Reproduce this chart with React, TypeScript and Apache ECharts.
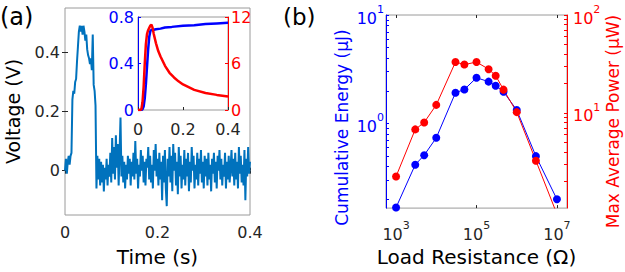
import React, { useEffect, useRef } from "react";
import * as echarts from "echarts";

// ---------- Panel (a): voltage trace (sampled every SAMPLE_DT seconds) ----------
const SAMPLE_DT = 0.002;
const voltage = [
  0.0, 0.04, -0.01, 0.03, 0.05, 0.02, 0.05, 0.06, 0.24, 0.27,
  0.26, 0.3, 0.31, 0.37, 0.42, 0.47, 0.49, 0.47, 0.49, 0.46,
  0.49, 0.47, 0.44, 0.46, 0.41, 0.39, 0.38, 0.36, 0.38, 0.34,
  0.46, 0.29, 0.27, 0.22, -0.06, 0.05, -0.03, 0.04, -0.05, 0.03,
  -0.04, 0.02, -0.07, 0.01, -0.03, 0.04, -0.05, 0.02, -0.02, 0.06,
  -0.04, 0.11, -0.01, 0.08, -0.03, 0.12, 0.01, 0.09, -0.05, 0.06,
  0.18, -0.02, 0.05, -0.04, 0.03, -0.06, 0.02, -0.03, 0.05, -0.01,
  0.04, -0.05, 0.03, -0.02, 0.06, -0.03, 0.1, -0.01, 0.04, -0.06,
  0.02, -0.02, 0.07, 0.0, 0.05, -0.04, 0.03, -0.05, 0.04, 0.01,
  0.08, -0.03, 0.05, -0.04, 0.02, -0.06, 0.07, 0.0, 0.09, -0.02,
  0.04, -0.05, 0.06, -0.03, 0.03, -0.1, 0.05, -0.04, 0.07, -0.06,
  -0.12, 0.04, -0.02, 0.08, -0.04, 0.05, -0.07, 0.09, 0.0, 0.06,
  -0.05, 0.03, -0.08, 0.08, -0.02, 0.05, -0.06, 0.02, -0.03, 0.07,
  -0.05, 0.04, -0.02, 0.06, -0.07, 0.03, -0.04, 0.08, 0.0, 0.05,
  -0.06, 0.02, -0.03, 0.06, -0.05, 0.04, -0.01, 0.07, -0.04, 0.03,
  -0.06, 0.05, -0.02, 0.04, -0.05, 0.06, -0.03, 0.02, -0.07, 0.04,
  -0.01, 0.06, -0.04, 0.03, -0.06, 0.05, 0.0, 0.07, -0.03, 0.04,
  -0.05, 0.02, -0.02, 0.06, -0.06, 0.03, -0.03, 0.05, -0.04, 0.01,
  0.07, -0.02, 0.04, -0.05, 0.06, -0.03, 0.03, -0.06, 0.08, -0.01,
  0.05, -0.04, 0.02, -0.05, 0.07, -0.1, 0.04, -0.02, 0.08, -0.01,
  0.03,
];

// Inset: cumulative energy (left, blue) and power (right, red)
const energyTime = [0, 0.01, 0.02, 0.025, 0.03, 0.035, 0.04, 0.045, 0.05, 0.055, 0.06, 0.07, 0.08, 0.1, 0.12, 0.15, 0.2, 0.25, 0.3, 0.35, 0.4];
const energyValues = [0, 0, 0.005, 0.03, 0.1, 0.22, 0.37, 0.52, 0.63, 0.68, 0.69, 0.69, 0.695, 0.7, 0.71, 0.715, 0.725, 0.73, 0.74, 0.745, 0.75];
const powerTime = [0, 0.01, 0.015, 0.02, 0.025, 0.03, 0.035, 0.04, 0.045, 0.05, 0.055, 0.06, 0.065, 0.07, 0.08, 0.09, 0.1, 0.12, 0.14, 0.16, 0.18, 0.2, 0.25, 0.3, 0.35, 0.4];
const powerValues = [0, 0, 0.1, 1.0, 3.0, 6.0, 8.5, 9.8, 10.3, 10.6, 10.9, 11.0, 10.6, 9.8, 8.6, 7.6, 6.9, 5.7, 4.8, 4.2, 3.7, 3.3, 2.6, 2.2, 1.95, 1.75];

const mainXTicks = [0, 0.2, 0.4];
const mainYTicks = [0, 0.2, 0.4];

// ---------- Panel (b): load sweep ----------
const resistance = [1e3, 3e3, 5e3, 1e4, 3e4, 5e4, 1e5, 2e5, 3e5, 4.7e5, 1e6, 3e6, 1e7];
const cumulativeEnergy = [0.168, 0.417, 0.51, 0.738, 1.92, 2.06, 2.64, 2.43, 2.23, 1.96, 1.33, 0.5, 0.2];
const maxAvgPower = [2.25, 6.8, 8.0, 12.1, 33.1, 31.2, 33.1, 28.0, 24.0, 17.3, 10.2, 3.26, 0.93];

const logXLabels = [1e3, 1e5, 1e7];
const logYLeftLabels = [1, 10];
const logYRightLabels = [10, 100];
const logYLeftTicks = [0.2, 0.3, 0.4, 0.5, 0.6, 0.7, 0.8, 0.9, 1, 2, 3, 4, 5, 6, 7, 8, 9, 10];
const logYRightTicks = [2, 3, 4, 5, 6, 7, 8, 9, 10, 20, 30, 40, 50, 60, 70, 80, 90, 100];

const FONT = "DejaVu Sans";
const DARK = "#262626";
const BOX = "#9a9a9a";
const BLUE = "#0000ff";
const RED = "#ff0000";

const pow10Label = (color: string) => ({
  formatter: (v: number) => `{b|10}{s|${Math.round(Math.log10(v))}}`,
  rich: {
    b: { fontSize: 16, fontFamily: FONT, color, verticalAlign: "bottom", lineHeight: 22 },
    s: { fontSize: 11, fontFamily: FONT, color, verticalAlign: "top", lineHeight: 22 },
  },
});

export default function App() {
  const ref = useRef<HTMLDivElement>(null);
  useEffect(() => {
    const chart = echarts.init(ref.current!, null, { renderer: "svg" });
    const tickStyle = (color: string) => ({ show: true, inside: true, length: 3, lineStyle: { color, width: 1 } });
    const option: any = {
      animation: false,
      backgroundColor: "#fff",
      textStyle: { fontFamily: FONT },
      grid: [
        { left: 65, top: 8, width: 185, height: 209, show: true, borderColor: BOX, borderWidth: 1, z: 0 },
        { left: 138, top: 17, width: 90, height: 93, show: true, borderColor: BOX, borderWidth: 1, backgroundColor: "#fff", z: 5 },
        { left: 386, top: 15, width: 181, height: 203, show: true, borderColor: BOX, borderWidth: 1, z: 0 },
      ],
      xAxis: [
        {
          gridIndex: 0, type: "value", min: 0, max: 0.4, interval: 0.2,
          axisLine: { show: false }, splitLine: { show: false },
          axisTick: tickStyle(DARK),
          axisLabel: { color: DARK, fontSize: 16, margin: 9, fontFamily: FONT, customValues: mainXTicks },
          name: "Time (s)", nameLocation: "middle", nameGap: 32,
          nameTextStyle: { color: "#000", fontSize: 20, fontFamily: FONT },
        },
        {
          gridIndex: 0, type: "value", min: 0, max: 0.4, interval: 0.2, position: "top",
          axisLine: { show: false }, splitLine: { show: false }, axisLabel: { show: false },
          axisTick: tickStyle(DARK),
        },
        {
          gridIndex: 1, type: "value", min: 0, max: 0.4, interval: 0.2, z: 6,
          axisLine: { show: false }, splitLine: { show: false },
          axisTick: tickStyle(DARK),
          axisLabel: { color: DARK, fontSize: 16, margin: 11, fontFamily: FONT },
        },
        {
          gridIndex: 2, type: "log", logBase: 10, min: 562.3, max: 17782794,
          axisLine: { show: false }, splitLine: { show: false },
          axisTick: { ...tickStyle(DARK), customValues: logXLabels },
          axisLabel: { ...pow10Label(DARK), margin: 12, customValues: logXLabels },
          minorTick: { show: false },
          name: "Load Resistance (Ω)", nameLocation: "middle", nameGap: 31,
          nameTextStyle: { color: "#000", fontSize: 20, fontFamily: FONT },
        },
        {
          gridIndex: 2, type: "log", logBase: 10, min: 562.3, max: 17782794, position: "top",
          axisLine: { show: false }, splitLine: { show: false }, axisLabel: { show: false },
          axisTick: { ...tickStyle(DARK), customValues: logXLabels },
        },
      ],
      yAxis: [
        {
          gridIndex: 0, type: "value", min: -0.15, max: 0.55,
          axisLine: { show: false }, splitLine: { show: false },
          axisTick: { ...tickStyle(DARK), customValues: mainYTicks },
          axisLabel: { color: DARK, fontSize: 16, margin: 5, fontFamily: FONT, customValues: mainYTicks },
          name: "Voltage (V)", nameLocation: "middle", nameGap: 43, nameRotate: 90,
          nameTextStyle: { color: "#000", fontSize: 19, fontFamily: FONT },
        },
        {
          gridIndex: 0, type: "value", min: -0.15, max: 0.55, position: "right",
          axisLine: { show: false }, splitLine: { show: false }, axisLabel: { show: false },
          axisTick: { ...tickStyle(DARK), customValues: mainYTicks },
        },
        {
          gridIndex: 1, type: "value", min: 0, max: 0.8, interval: 0.4, z: 6,
          axisLine: { show: true, lineStyle: { color: BLUE, width: 1 } }, splitLine: { show: false },
          axisTick: tickStyle(BLUE),
          axisLabel: { color: BLUE, fontSize: 16, margin: 4, fontFamily: FONT },
        },
        {
          gridIndex: 1, type: "value", min: 0, max: 12, interval: 6, position: "right", z: 6,
          axisLine: { show: true, lineStyle: { color: RED, width: 1 } }, splitLine: { show: false },
          axisTick: tickStyle(RED),
          axisLabel: { color: RED, fontSize: 16, margin: 3, fontFamily: FONT },
        },
        {
          gridIndex: 2, type: "log", logBase: 10, min: 0.166, max: 10, z: 3,
          axisLine: { show: true, lineStyle: { color: BLUE, width: 1 } }, splitLine: { show: false },
          axisTick: { ...tickStyle(BLUE), customValues: logYLeftTicks },
          minorTick: { show: false },
          axisLabel: { ...pow10Label(BLUE), margin: 2, customValues: logYLeftLabels },
          name: "Cumulative Energy (μJ)", nameLocation: "middle", nameGap: 36, nameRotate: 90,
          nameTextStyle: { color: BLUE, fontSize: 17, fontFamily: FONT, padding: [0, 32, 0, 0] },
        },
        {
          gridIndex: 2, type: "log", logBase: 10, min: 1.07, max: 100, position: "right", z: 3,
          axisLine: { show: true, lineStyle: { color: RED, width: 1 } }, splitLine: { show: false },
          axisTick: { ...tickStyle(RED), customValues: logYRightTicks },
          minorTick: { show: false },
          axisLabel: { ...pow10Label(RED), margin: 6, customValues: logYRightLabels },
          name: "Max Average Power (μW)", nameLocation: "middle", nameGap: 36, nameRotate: 90,
          nameTextStyle: { color: RED, fontSize: 17, fontFamily: FONT, padding: [0, 20, 0, 0] },
        },
      ],
      series: [
        {
          type: "line", xAxisIndex: 0, yAxisIndex: 0, z: 1, showSymbol: false,
          data: voltage.map((v, i) => [i * SAMPLE_DT, v]),
          lineStyle: { color: "#0072BD", width: 2 }, clip: true,
        },
        {
          type: "line", xAxisIndex: 2, yAxisIndex: 2, z: 7, showSymbol: false,
          data: energyTime.map((t, i) => [t, energyValues[i]]),
          lineStyle: { color: BLUE, width: 2.5 },
        },
        {
          type: "line", xAxisIndex: 2, yAxisIndex: 3, z: 8, showSymbol: false,
          data: powerTime.map((t, i) => [t, powerValues[i]]),
          lineStyle: { color: RED, width: 2.5 },
        },
        {
          type: "line", xAxisIndex: 3, yAxisIndex: 4, symbol: "circle", symbolSize: 8, clip: true,
          data: resistance.map((r, i) => [r, cumulativeEnergy[i]]),
          lineStyle: { color: BLUE, width: 1 }, itemStyle: { color: BLUE },
        },
        {
          type: "line", xAxisIndex: 3, yAxisIndex: 5, symbol: "circle", symbolSize: 8, clip: true,
          data: resistance.map((r, i) => [r, maxAvgPower[i]]),
          lineStyle: { color: RED, width: 1 }, itemStyle: { color: RED },
        },
      ],
      graphic: [
        { type: "text", left: 0, top: 5, style: { text: "(a)", fontSize: 24, fontFamily: FONT, fill: "#000" } },
        { type: "text", left: 283, top: 5, style: { text: "(b)", fontSize: 23, fontFamily: FONT, fill: "#000" } },
      ],
    };
    chart.setOption(option);
    return () => chart.dispose();
  }, []);
  return <div ref={ref} style={{ position: "absolute", left: 0, top: 0, width: 625, height: 272 }} />;
}
